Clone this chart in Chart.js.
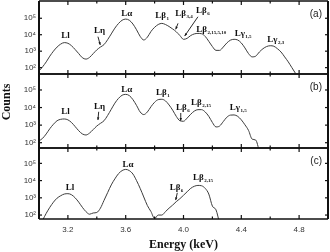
<!DOCTYPE html>
<html>
<head>
<meta charset="utf-8">
<script src="https://cdn.jsdelivr.net/npm/chart.js@4.4.0/dist/chart.umd.min.js"></script>
<style>
  body { margin: 0; background: #fff; }
  #wrap { position: relative; width: 330px; height: 252px; overflow: hidden; }
  canvas { position: absolute; left: 0; }
</style>
</head>
<body>
<div id="wrap">
  <canvas id="pa" width="330" height="76" style="top:0px"></canvas>
  <canvas id="pb" width="330" height="78" style="top:72px"></canvas>
  <canvas id="pc" width="330" height="106" style="top:146px"></canvas>
</div>
<script>
// energy grid (keV)
const energy = [3.000, 3.025, 3.050, 3.075, 3.100, 3.125, 3.150, 3.175, 3.200, 3.225,
                3.250, 3.275, 3.300, 3.325, 3.350, 3.375, 3.400, 3.425, 3.450, 3.475,
                3.500, 3.525, 3.550, 3.575, 3.600, 3.625, 3.650, 3.675, 3.700, 3.725,
                3.750, 3.775, 3.800, 3.825, 3.850, 3.875, 3.900, 3.925, 3.950, 3.975,
                4.000, 4.025, 4.050, 4.075, 4.100, 4.125, 4.150, 4.175, 4.200, 4.225,
                4.250, 4.275, 4.300, 4.325, 4.350, 4.375, 4.400, 4.425, 4.450, 4.475,
                4.500, 4.525, 4.550, 4.575, 4.600, 4.625, 4.650, 4.675, 4.700, 4.725,
                4.750, 4.775, 4.800];

// counts
const countsA = [63, 112, 224, 500, 1000, 1780, 2690, 3310, 3020, 2140,
                 1260, 710, 400, 330, 420, 710, 1200, 1780, 2510, 5010,
                 11200, 25100, 47900, 75900, 89100, 75900, 44700, 20000, 7940, 4790,
                 7080, 15800, 28200, 41700, 49000, 41700, 31600, 22400, 15100, 8910,
                 5250, 6030, 8910, 11200, 12000, 11500, 7940, 3980, 1910, 1120,
                 1120, 1780, 3160, 4680, 5250, 4790, 3160, 1580, 710, 450,
                 500, 890, 1410, 1910, 2140, 2000, 1410, 890, 450, 224,
                 100, 45];
const countsB = [126, 178, 316, 630, 1120, 1780, 2140, 2240, 2000, 1410,
                 830, 480, 316, 275, 355, 560, 890, 1260, 1780, 3550,
                 7940, 17800, 33100, 50100, 56200, 47900, 28200, 13200, 5620, 3980,
                 5620, 11200, 20000, 28200, 29500, 24000, 14100, 7080, 3160, 1780,
                 1660, 2510, 4170, 6310, 7590, 7590, 5620, 3160, 1410, 790,
                 890, 1580, 2820, 3720, 3800, 3160, 2000, 1050, 500, 160,
                 141, 32];
const countsC = [null, 50, 126, 282, 560, 955, 1320, 1660, 1740, 1510,
                 1000, 560, 282, 158, 112, 132, 141, 251, 710, 2000,
                 5620, 12600, 25100, 38000, 44700, 38000, 24000, 10000, 3550, 1120,
                 355, 158, 63, 100, 100, 158, 251, 380, 600, 890,
                 1410, 2240, 3550, 4680, 5250, 5010, 3550, 1660, 330, 200,
                 32];

const xMajor = [3.2, 3.6, 4.0, 4.4, 4.8];
const xMinor = [3.0, 3.4, 3.8, 4.2, 4.6, 5.0];
const yTicks = [100, 1000, 10000, 100000];
const yTickLabels = ['10²', '10³', '10⁴', '10⁵'];
const yMarks = [100, 1000, 10000, 100000, 1000000];

// peak labels: [text, subscript, energy, counts, arrow from E, counts, arrow to E, counts]
const labelsA = [
  ['Ll', '', 3.154, 8300],
  ['Lη', '', 3.381, 17400, 3.408, 7600, 3.424, 2400],
  ['Lα', '', 3.570, 178000],
  ['Lβ', '1', 3.805, 141000],
  ['Lβ', '3,4', 3.943, 178000, 3.962, 49000, 3.946, 21400],
  ['Lβ', '6', 4.087, 282000, 4.100, 123000, 4.008, 8300],
  ['Lβ', '2,15,5,10', 4.089, 21400],
  ['Lγ', '1,5', 4.354, 12000],
  ['Lγ', '2,3', 4.580, 4800]
];
const labelsB = [
  ['Ll', '', 3.154, 5750],
  ['Lη', '', 3.381, 11200, 3.413, 5750, 3.408, 1950],
  ['Lα', '', 3.570, 110000],
  ['Lβ', '1', 3.810, 74000],
  ['Lβ', '6', 3.948, 10200, 3.981, 4900, 3.981, 1780],
  ['Lβ', '2,15', 4.052, 19000],
  ['Lγ', '1,5', 4.320, 10200]
];
const labelsC = [
  ['Ll', '', 3.185, 3800],
  ['Lα', '', 3.577, 87000],
  ['Lβ', '6', 3.904, 3800, 3.957, 1950, 3.946, 740],
  ['Lβ', '2,15', 4.066, 14500]
];

function line(ctx, x1, y1, x2, y2) {
  ctx.beginPath();
  ctx.moveTo(x1, y1);
  ctx.lineTo(x2, y2);
  ctx.stroke();
}

function framePlugin(tag, labels, drawCounts) {
  return {
    id: 'frame',
    afterDraw(chart) {
      const { ctx, chartArea: a, scales: { x, y } } = chart;
      ctx.save();
      ctx.strokeStyle = '#111';
      ctx.fillStyle = '#111';

      // frame
      ctx.lineWidth = 1.4;
      line(ctx, a.left, a.top, a.right, a.top);
      line(ctx, a.left, a.bottom, a.right, a.bottom);
      ctx.lineWidth = 2;
      line(ctx, a.left, a.top, a.left, a.bottom);
      line(ctx, a.right, a.top, a.right, a.bottom);

      // inward ticks
      ctx.lineWidth = 1.2;
      xMajor.forEach(v => {
        const px = x.getPixelForValue(v);
        line(ctx, px, a.top, px, a.top + 4);
        line(ctx, px, a.bottom, px, a.bottom - 4);
      });
      xMinor.forEach(v => {
        const px = x.getPixelForValue(v);
        line(ctx, px, a.top, px, a.top + 2.5);
        line(ctx, px, a.bottom, px, a.bottom - 2.5);
      });
      yMarks.forEach(v => {
        const py = y.getPixelForValue(v);
        if (py < a.top + 1 || py > a.bottom - 1) return;
        line(ctx, a.left, py, a.left + 3, py);
        line(ctx, a.right, py, a.right - 3, py);
      });

      // peak labels
      ctx.textBaseline = 'middle';
      ctx.textAlign = 'left';
      labels.forEach(l => {
        const px = x.getPixelForValue(l[2]);
        const py = y.getPixelForValue(l[3]);
        ctx.font = 'bold 9px "Liberation Serif"';
        ctx.fillText(l[0], px, py);
        const w = ctx.measureText(l[0]).width;
        if (l[1]) {
          ctx.font = 'bold 5px "Liberation Serif"';
          ctx.fillText(l[1], px + w + 0.5, py + 3);
        }
        if (l.length > 4) {
          const x1 = x.getPixelForValue(l[4]), y1 = y.getPixelForValue(l[5]);
          const x2 = x.getPixelForValue(l[6]), y2 = y.getPixelForValue(l[7]);
          ctx.lineWidth = 0.9;
          line(ctx, x1, y1, x2, y2);
          const ang = Math.atan2(y2 - y1, x2 - x1);
          ctx.beginPath();
          ctx.moveTo(x2, y2);
          ctx.lineTo(x2 - 3 * Math.cos(ang - 0.4), y2 - 3 * Math.sin(ang - 0.4));
          ctx.lineTo(x2 - 3 * Math.cos(ang + 0.4), y2 - 3 * Math.sin(ang + 0.4));
          ctx.closePath();
          ctx.fill();
        }
      });

      // panel tag
      ctx.font = '10px "Liberation Sans"';
      ctx.textAlign = 'right';
      ctx.fillStyle = '#222';
      ctx.fillText(tag, a.right - 6, a.top + 13);

      if (drawCounts) {
        ctx.translate(7, a.top + 28);
        ctx.rotate(-Math.PI / 2);
        ctx.textAlign = 'center';
        ctx.font = 'bold 12px "Liberation Serif"';
        ctx.fillStyle = '#111';
        ctx.fillText('Counts', 0, 0);
      }
      ctx.restore();
    }
  };
}

function makeChart(id, counts, yMin, yMax, labels, tag, pad, showX, drawCounts) {
  return new Chart(document.getElementById(id), {
    type: 'line',
    data: {
      datasets: [{
        data: energy.map((e, i) => ({ x: e, y: counts[i] ?? null })),
        borderColor: '#3c3c3c',
        borderWidth: 1,
        pointRadius: 0,
        cubicInterpolationMode: 'monotone',
        spanGaps: false
      }]
    },
    options: {
      responsive: false,
      animation: false,
      layout: { padding: pad },
      plugins: { legend: { display: false }, tooltip: { enabled: false } },
      scales: {
        x: {
          type: 'linear', min: 3, max: 5, display: showX,
          grid: { display: false, drawTicks: false },
          border: { display: false },
          afterBuildTicks: s => { s.ticks = xMajor.map(v => ({ value: v })); },
          ticks: {
            callback: v => v.toFixed(1),
            font: { family: 'Liberation Sans', size: 8 },
            color: '#333', padding: 6, maxRotation: 0, autoSkip: false
          },
          title: {
            display: showX, text: 'Energy (keV)', color: '#111',
            font: { family: 'Liberation Serif', size: 12, weight: 'bold' },
            padding: { top: 0, bottom: 0 }
          },
          afterFit: s => {
            if (showX) s.height = 33;
            s.paddingLeft = 0; s.paddingRight = 0;
          }
        },
        y: {
          type: 'logarithmic', min: yMin, max: yMax,
          grid: { display: false, drawTicks: false },
          border: { display: false },
          afterBuildTicks: s => { s.ticks = yTicks.map(v => ({ value: v })); },
          ticks: {
            callback: (v, i) => yTickLabels[i],
            font: { family: 'Liberation Sans', size: 8 },
            color: '#333', padding: 3, autoSkip: false
          },
          afterFit: s => {
            s.width = 39;
            s.paddingTop = 0; s.paddingBottom = 0;
          }
        }
      }
    },
    plugins: [framePlugin(tag, labels, drawCounts)]
  });
}

makeChart('pa', countsA, 41, 1.12e6, labelsA, '(a)', { top: 1, bottom: 2, left: 0, right: 2 }, false, false);
makeChart('pb', countsB, 50, 8.1e5, labelsB, '(b)', { top: 2, bottom: 2, left: 0, right: 2 }, false, true);
makeChart('pc', countsC, 59, 7.8e5, labelsC, '(c)', { top: 2, bottom: 0, left: 0, right: 2 }, true, false);
</script>
</body>
</html>
